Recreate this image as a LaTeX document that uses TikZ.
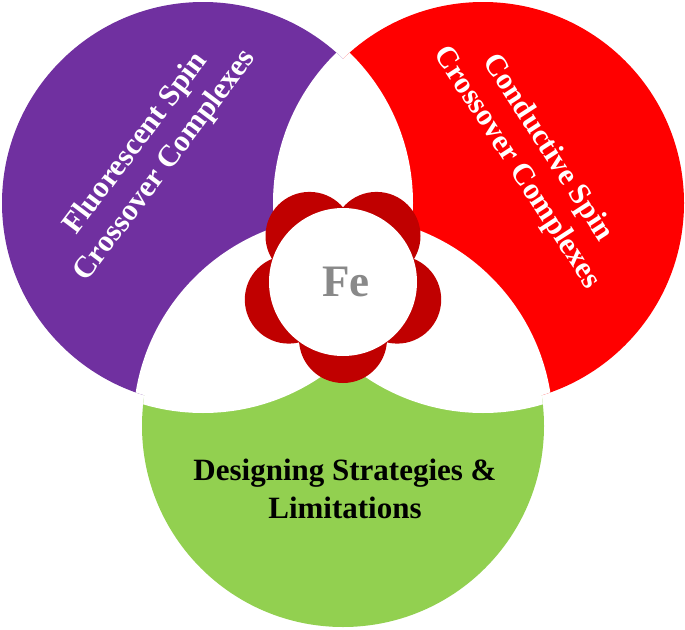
\documentclass[tikz,border=0pt]{standalone}
\usepackage{fontspec}
\setmainfont{Liberation Serif}
\definecolor{vpurple}{HTML}{7030A0}
\definecolor{vred}{HTML}{FF0000}
\definecolor{vgreen}{HTML}{92D050}
\definecolor{petalred}{HTML}{C00000}
\definecolor{fegray}{HTML}{898989}
\begin{document}
\begin{tikzpicture}[x=1pt,y=-1pt,
  lbl/.style={font=\bfseries\fontsize{30.5}{36.5}\selectfont, align=center, inner sep=0pt},
  petalc/.style={petalred}]
\useasboundingbox[fill=white] (0,0) rectangle (685,629);
\coordinate (P) at (203,203);
\coordinate (R) at (483,203);
\coordinate (G) at (343,426);
% coloured circles
\fill[vpurple] (P) circle[radius=201pt];
\fill[vred] (R) circle[radius=201pt];
\fill[vgreen] (G) circle[radius=201pt];
% white overlaps
\begin{scope}
  \clip (P) circle[radius=201pt];
  \fill[white] (R) circle[radius=210pt] (G) circle[radius=210pt];
\end{scope}
\begin{scope}
  \clip (R) circle[radius=201pt];
  \fill[white] (P) circle[radius=210pt] (G) circle[radius=210pt];
\end{scope}
\begin{scope}
  \clip (G) circle[radius=201pt];
  \fill[white] (P) circle[radius=210pt] (R) circle[radius=210pt];
\end{scope}
% flower
\coordinate (F) at (343,282);
\fill[petalc] (343,339) circle[radius=44pt]
  (397.2,299.6) circle[radius=44pt]
  (288.8,299.6) circle[radius=44pt]
  (309.5,235.9) circle[radius=44pt]
  (376.5,235.9) circle[radius=44pt];
\fill[white] (F) circle[radius=74pt];
\node[font=\bfseries\fontsize{45}{50}\selectfont, text=fegray, inner sep=0pt] (fe) at (346,282) {Fe};
% labels
\node[lbl, text=white, rotate=53] (fl) at (151,155) {Fluorescent Spin\\Crossover Complexes};
\node[lbl, text=white, rotate=-57] (co) at (532,158) {Conductive Spin\\Crossover Complexes};
\node[lbl, font=\bfseries\fontsize{31}{38}\selectfont, text=black] (ds) at (345,489) {Designing Strategies \&\\Limitations};
\end{tikzpicture}
\end{document}
